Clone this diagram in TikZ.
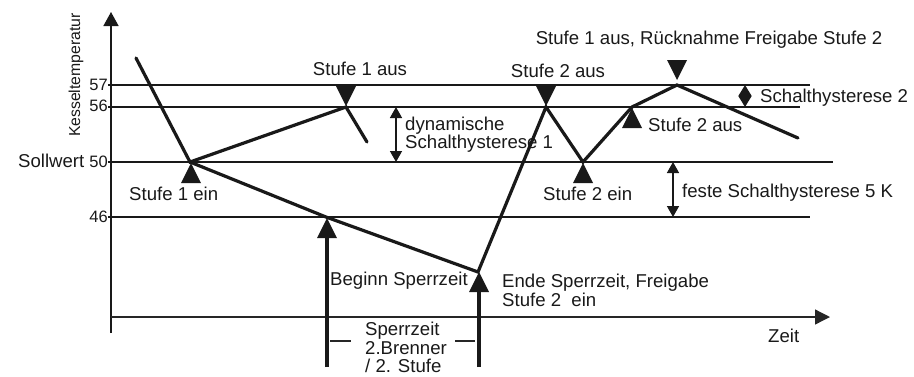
\documentclass[tikz,border=0pt]{standalone}
\usepackage{fontspec}
\setmainfont{Liberation Sans}
\usetikzlibrary{arrows.meta}
\begin{document}
\begin{tikzpicture}[x=1pt,y=-1pt,
  thinline/.style={line width=1.5pt, draw=black!90},
  curve/.style={line width=3.2pt, draw=black!90, line join=miter, line cap=round},
  shaft/.style={line width=4pt, draw=black!90},
  lbl/.style={inner sep=0pt, font=\fontsize{18.6}{20}\selectfont, text=black!90},
  num/.style={inner sep=0pt, font=\fontsize{16.5}{18}\selectfont, text=black!90},
  dimarrow/.style={line width=1.5pt, draw=black!90, {Triangle[width=12pt,length=11pt]}-{Triangle[width=12pt,length=11pt]}},
  mkup/.pic={\fill[black!90] (0,0) -- (10,20) -- (-10,20) -- cycle;},
  mkdown/.pic={\fill[black!90] (0,0) -- (10,-20) -- (-10,-20) -- cycle;},
]
\useasboundingbox (0,0) rectangle (914,376);

% axes
\draw[thinline, -{Triangle[width=15pt,length=14pt]}] (111,333) -- (111,12);
\draw[line width=1.3pt, draw=black!85, -{Triangle[width=15pt,length=15pt]}] (111,317) -- (830,317);

% level lines
\draw[thinline] (108,85) -- (810,85);
\draw[thinline] (108,107) -- (800,107);
\draw[thinline] (108,162) -- (833,162);
\draw[thinline] (108,217) -- (810,217);

% axis labels
\node[lbl, font=\fontsize{15.8}{18}\selectfont, rotate=90] (ylab) at (76,75) {Kesseltemperatur};
\node[num, anchor=base east] (n57) at (108,90) {57};
\node[num, anchor=base east] (n56) at (108,111.5) {56};
\node[lbl, anchor=base east] (n50) at (108,167) {Sollwert {\fontsize{16.5}{18}\selectfont 50}};
\node[num, anchor=base east] (n46) at (108,222) {46};
\node[lbl, anchor=base west] (zeit) at (768,342) {Zeit};

% temperature curve
\coordinate (p0) at (136,58);
\coordinate (p1) at (190,162);
\coordinate (a1) at (346,107);
\coordinate (a2) at (367,142);
\coordinate (b1) at (326,217);
\coordinate (b2) at (478,272);
\coordinate (b3) at (546,107);
\coordinate (b4) at (583,162);
\coordinate (b5) at (632,107);
\coordinate (b6) at (677,85);
\coordinate (b7) at (798,138);
\draw[curve] (p0) -- (p1) -- (a1) -- (a2);
\draw[curve] (p1) -- (b1) -- (b2) -- (b3) -- (b4) -- (b5) -- (b6) -- (b7);

% markers
\pic at (191,163) {mkup};
\pic at (346,106) {mkdown};
\pic at (546,106) {mkdown};
\pic at (583,163) {mkup};
\pic at (632,108) {mkup};
\pic at (677,80) {mkdown};

% big arrows (Sperrzeit)
\draw[shaft] (327,367) -- (327,236);
\pic at (327,218) {mkup};
\draw[shaft] (479,367) -- (479,290);
\pic at (479,272) {mkup};

% hysteresis arrows
\draw[dimarrow] (396,107) -- (396,162);
\draw[dimarrow] (673,162) -- (673,217);
\draw[line width=1.5pt, draw=black!90, {Triangle[width=13pt,length=11pt]}-{Triangle[width=13pt,length=11pt]}] (745,85) -- (745,107);

% labels
\node[lbl, anchor=base] (s1aus) at (360,75) {Stufe 1 aus};
\node[lbl, anchor=base] (s2aus) at (558,77) {Stufe 2 aus};
\node[lbl, anchor=base] (s1rueck) at (709,44) {Stufe 1 aus, Rücknahme Freigabe Stufe 2};
\node[lbl, anchor=base west] (dyn1) at (405,130) {dynamische};
\node[lbl, anchor=base west] (dyn2) at (405,148) {Schalthysterese 1};
\node[lbl, anchor=base west] (sh2) at (760,102) {Schalthysterese 2};
\node[lbl, anchor=base west] (s2ausb) at (648,131) {Stufe 2 aus};
\node[lbl, anchor=base west] (s1ein) at (129,200) {Stufe 1 ein};
\node[lbl, anchor=base west] (s2ein) at (543,200) {Stufe 2 ein};
\node[lbl, anchor=base west] (feste) at (682,197) {feste Schalthysterese 5 K};
\node[lbl, anchor=base west] (beginn) at (330,285) {Beginn Sperrzeit};
\node[lbl, anchor=base west] (ende1) at (502,287) {Ende Sperrzeit, Freigabe};
\node[lbl, anchor=base west] (ende2) at (502,306) {Stufe 2\ \ ein};

% Sperrzeit span
\node[lbl, anchor=base west] (sp1) at (365,335) {Sperrzeit};
\node[lbl, anchor=base west] (sp2) at (365,354) {2.Brenner};
\node[lbl, anchor=base west] (sp3) at (365,372.5) {/ 2. Stufe};
\coordinate (dl1) at (330,341);
\coordinate (dl2) at (351,341);
\coordinate (dr1) at (455,341);
\coordinate (dr2) at (475,341);
\draw[line width=1.2pt, draw=black!85] (dl1) -- (dl2);
\draw[line width=1.2pt, draw=black!85] (dr1) -- (dr2);
\end{tikzpicture}
\end{document}
